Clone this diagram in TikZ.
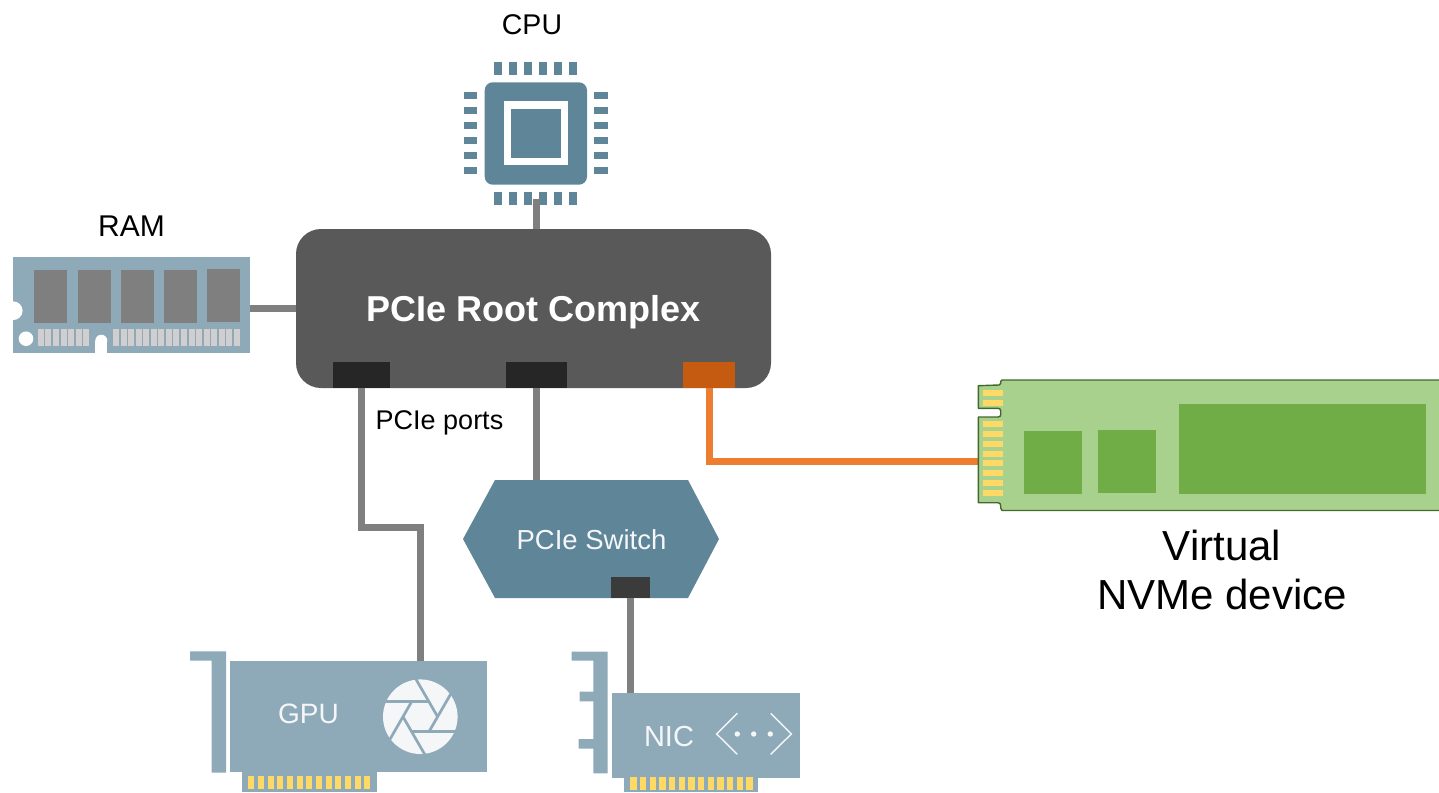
\documentclass[tikz,border=0pt]{standalone}
\usepackage{fontspec}
\setmainfont{Liberation Sans}
\definecolor{cardblue}{HTML}{8EAAB9}
\definecolor{cpublue}{HTML}{5F8599}
\definecolor{rootgrey}{HTML}{595959}
\definecolor{portdark}{HTML}{262626}
\definecolor{portdarktwo}{HTML}{3B3B3B}
\definecolor{portorange}{HTML}{C55A11}
\definecolor{linkgrey}{HTML}{7F7F7F}
\definecolor{linkorange}{HTML}{ED7D31}
\definecolor{chipgrey}{HTML}{7F7F7F}
\definecolor{contactgrey}{HTML}{D0CECE}
\definecolor{gold}{HTML}{FFD966}
\definecolor{ssdlight}{HTML}{A9D18E}
\definecolor{ssdchip}{HTML}{70AD47}
\definecolor{ssdedge}{HTML}{43682B}
\definecolor{cardtext}{HTML}{F4F6F8}
\tikzset{
  x=1pt,y=-1pt,
  flat/.style={inner sep=0pt,outer sep=0pt,draw=none,rectangle},
  link/.style={draw=linkgrey,line width=7pt,line join=miter},
  linkhot/.style={draw=linkorange,line width=7pt,line join=miter},
  label/.style={inner sep=0pt,outer sep=0pt,anchor=base,text=black},
  cardlabel/.style={inner sep=0pt,outer sep=0pt,anchor=base,text=cardtext},
}
\newcommand{\fpx}[1]{\fontsize{#1pt}{#1pt}\selectfont}
\newcommand{\rr}[5]{\fill[#5] (#1,#2) rectangle (#3,#4);}
\begin{document}
\begin{tikzpicture}
\useasboundingbox (0,0) rectangle (1439,792);
\clip (0,0) rectangle (1439,792);

% anchors of main nodes
\node[flat,fill=rootgrey,rounded corners=25pt,minimum width=475pt,minimum height=159pt] (root) at (533.5,308.5) {};
\coordinate (cpuin) at (536.3,198.7);
\coordinate (ramin) at (250,308.5);
\coordinate (rootram) at (296,308.5);
\coordinate (rootcpu) at (536.3,229);
\coordinate (gpuelbow) at (420,527);
\coordinate (gpuin) at (420,661);
\coordinate (nvmein) at (978,461);
\coordinate (switchin) at (536.5,480);
\coordinate (nicin) at (630.5,693);

\node[flat,fill=portdark,minimum width=57pt,minimum height=26pt] (port1) at (361.5,375) {};
\node[flat,fill=portdark,minimum width=61pt,minimum height=26pt] (port2) at (536.5,375) {};
\node[flat,fill=portorange,minimum width=52pt,minimum height=26pt] (port3) at (709,375) {};

% connectors
\draw[link] (cpuin) -- (rootcpu);
\draw[link] (ramin) -- (rootram);
\draw[link] (port1.south) |- (gpuelbow) -- (gpuin);
\draw[link] (port2.south) -- (switchin);
\draw[linkhot] (port3.south) |- (nvmein);

% CPU
\foreach \i in {0,...,5}{
  \fill[cpublue] (494.3+15*\i,61.7) rectangle ++(7.4,13.3);
  \fill[cpublue] (494.3+15*\i,191.7) rectangle ++(7.4,13.3);
  \fill[cpublue] (463.7,91.7+15*\i) rectangle ++(13.6,7.6);
  \fill[cpublue] (594.3,91.7+15*\i) rectangle ++(13.4,7.6);
}
\draw[link] (cpuin) -- (rootcpu);
\node[flat,fill=cpublue,rounded corners=8pt,minimum width=102.3pt,minimum height=102.4pt] (cpu) at (535.85,133.5) {};
\fill[white] (504,101.3) rectangle (568,165.3);
\fill[cpublue] (511.3,108.7) rectangle (560.7,158);
\node[label,font=\fpx{28.5}] (cpulabel) at (532,34.5) {CPU};

% RAM
\node[flat,fill=cardblue,minimum width=236.7pt,minimum height=95.7pt] (ram) at (131.65,304.85) {};
\fill[white] (13.3,310.7) circle (9.3);
\fill[white] (26,338.7) circle (7.3);
\fill[white] (101.3,340.7) circle (6);
\fill[white] (95.3,340.7) rectangle (107.3,353);
\fill[white] (4,300) rectangle (13.3,322);
\foreach \x/\y in {34/270,78/270,121/270,164/270,207/269}{
  \fill[chipgrey] (\x,\y) rectangle ++(33,52.7);
}
\foreach \i in {0,...,6}{\fill[contactgrey] (37.7+7.6*\i,328.7) rectangle ++(6,17.3);}
\foreach \i in {0,...,16}{\fill[contactgrey] (113+7.55*\i,328.7) rectangle ++(6,17.3);}
\node[label,font=\fpx{30}] (ramlabel) at (131.5,236.5) {RAM};

% Root label
\node[inner sep=0pt,outer sep=0pt,anchor=base,text=white,font=\fpx{36}\bfseries] (rootlabel) at (533.5,321) {PCIe Root Complex};
\node[label,font=\fpx{27}] (portslabel) at (439.5,429) {PCIe ports};

% Switch
\fill[cpublue] (463,539) -- (495,480) -- (688,480) -- (719,539) -- (688,598) -- (495,598) -- cycle;
\node[inner sep=0pt,outer sep=0pt,anchor=base,text=cardtext,font=\fpx{27.5}] (switchlabel) at (591.5,549) {PCIe Switch};
\node[flat,fill=portdarktwo,minimum width=39pt,minimum height=21pt] (port4) at (630.5,587.5) {};
\draw[link] (port4.south) -- (nicin);

% GPU
\fill[cardblue] (190,651.3) -- (226,651.3) -- (226,772.7) -- (211.7,772.7) -- (211.7,660.7) -- (190,660.7) -- cycle;
\fill[cardblue] (242,771) rectangle (376.7,792);
\node[flat,fill=cardblue,minimum width=257pt,minimum height=111pt] (gpu) at (358.8,716.2) {};
\foreach \i in {0,...,12}{\fill[gold] (248.3+9.67*\i,776) rectangle ++(6,13.3);}
\node[cardlabel,font=\fpx{28}] (gpulabel) at (308.5,723) {GPU};
\begin{scope}[shift={(420.3,716.7)}]
  \fill[cardtext] (0,0) circle (37.3);
  \foreach \a in {0,60,...,300}{
    \draw[cardblue,line width=2.7pt,rotate=\a] (-40,-15) -- (8.7,-15);
  }
\end{scope}

% NIC
\fill[cardblue] (571.7,651.7) -- (607.7,651.7) -- (607.7,773.3) -- (593.3,773.3) -- (593.3,748.7) -- (578.7,748.7) -- (578.7,739) -- (593.3,739) -- (593.3,701.3) -- (579.7,701.3) -- (579.7,691.7) -- (593.3,691.7) -- (593.3,660.7) -- (571.7,660.7) -- cycle;
\fill[cardblue] (623.7,776) rectangle (758.3,792);
\node[flat,fill=cardblue,minimum width=187.7pt,minimum height=84.7pt] (nic) at (706.15,735.35) {};
\foreach \i in {0,...,12}{\fill[gold] (630.3+9.67*\i,776.7) rectangle ++(6.3,13.3);}
\node[cardlabel,font=\fpx{29}] (niclabel) at (669,746) {NIC};
\draw[cardtext,line width=1.4pt] (737.3,713.3) -- (716.7,734) -- (737.3,754.3);
\draw[cardtext,line width=1.4pt] (770.7,713.3) -- (791.3,734) -- (770.7,754.3);
\foreach \x in {737.3,753.7,770.3}{\fill[cardtext] (\x,734) circle (2.7);}

% NVMe
\filldraw[fill=ssdlight,draw=ssdedge,line width=1.4pt,line join=round]
  (1445,380) -- (1002,380) -- (1000.7,381.5) -- (1000.7,383.5) -- (999,385) -- (978.3,385.7) -- (978.3,408.3) -- (998,408.3)
  .. controls (1000,408.3) and (1000.7,409.5) .. (1000.7,411) -- (1000.7,414.5)
  .. controls (1000.7,416) and (1000,417) .. (998,417) -- (978.3,417) -- (978.3,502.7) -- (998,502.7)
  .. controls (1000,502.7) and (1000.7,504) .. (1000.7,506) -- (1000.7,508) -- (1002,510.5) -- (1445,510.5) -- cycle;
\foreach \y in {390,399.7,421.3,431,440.9,450.6,460.3,470,480,489.7}{
  \fill[gold] (983,\y) rectangle ++(20.3,6);
}
\fill[ssdchip] (1024,431) rectangle (1082,494);
\fill[ssdchip] (1098,430) rectangle (1156,493);
\fill[ssdchip] (1179,404) rectangle (1426,494);
\node[label,font=\fpx{42},align=center] (nvmelabel) at (1222,560) {Virtual};
\node[label,font=\fpx{42}] (nvmelabeltwo) at (1222,609) {NVMe device};
\end{tikzpicture}
\end{document}
